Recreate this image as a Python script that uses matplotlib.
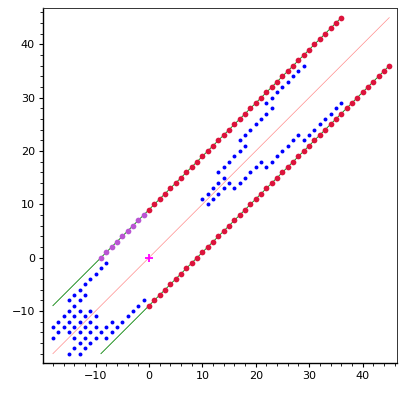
import numpy as np
import matplotlib
matplotlib.use('Agg')
from matplotlib import pyplot as plt
from matplotlib.ticker import MultipleLocator

# dotted diagonals
upper_x = list(range(0, 37))
upper_y = list(range(9, 46))
purple_x = list(range(-9, 0))
purple_y = list(range(0, 9))
lower_x = list(range(0, 46))
lower_y = list(range(-9, 37))

# green guide segments (end points)
green_upper_x = [-18, 36]
green_upper_y = [-9, 45]
green_lower_x = [-9, 45]
green_lower_y = [-18, 36]

# thin diagonal y = x
diag_x = [-18, 45]
diag_y = [-18, 45]

# blue lattice points, lower left
blue_ll_x = [-8, -9, -10, -11, -12, -13, -14, -12, -15, -13, -1, -14, -2,
             -15, -13, -11, -3, -16, -14, -12, -10, -4,
             -17, -15, -13, -11, -7, -5,
             -18, -16, -14, -12, -10, -8, -6,
             -17, -15, -13, -11, -9, -7,
             -18, -14, -12, -10, -8,
             -13, -11, -14, -12, -15, -13]
blue_ll_y = [-1, -2, -3, -4, -5, -6, -7, -7, -8, -8, -8, -9, -9,
             -10, -10, -10, -10, -11, -11, -11, -11, -11,
             -12, -12, -12, -12, -12, -12,
             -13, -13, -13, -13, -13, -13, -13,
             -14, -14, -14, -14, -14, -14,
             -15, -15, -15, -15, -15,
             -16, -16, -17, -17, -18, -18]

# blue lattice points, upper right
blue_ur_x = [11, 10, 12, 11, 13, 12, 14, 16, 13, 15, 17, 14, 18, 13, 19,
             14, 20, 22, 15, 21, 23, 16, 24, 17, 25, 18, 26,
             17, 27, 29, 18, 28, 30, 19, 31, 20, 32, 21, 33,
             22, 34, 23, 35, 22, 36, 23, 24, 25, 26, 27, 28, 29]
blue_ur_y = [10, 11, 11, 12, 12, 13, 13, 13, 14, 14, 14, 15, 15, 16, 16,
             17, 17, 17, 18, 18, 18, 19, 19, 20, 20, 21, 21,
             22, 22, 22, 23, 23, 23, 24, 24, 25, 25, 26, 26,
             27, 27, 28, 28, 29, 29, 30, 31, 32, 33, 34, 35, 36]

fig = plt.figure(figsize=(4.07, 3.93), dpi=100)
ax = fig.add_axes([43.3/407, 1-362.7/393, (396.7-43.3)/407, (362.7-8.3)/393])

ax.plot(green_upper_x, green_upper_y, color='green', lw=0.6, zorder=1)
ax.plot(green_lower_x, green_lower_y, color='green', lw=0.6, zorder=1)
ax.plot(diag_x, diag_y, color='red', lw=0.5, alpha=0.45, zorder=1)

ax.scatter(upper_x, upper_y, s=17, color='#dc143c', lw=0, zorder=3)
ax.scatter(lower_x, lower_y, s=17, color='#dc143c', lw=0, zorder=3)
ax.scatter(purple_x, purple_y, s=17, color='#ba55d3', lw=0, zorder=3)
ax.scatter(blue_ll_x, blue_ll_y, s=8, color='blue', lw=0, zorder=3)
ax.scatter(blue_ur_x, blue_ur_y, s=8, color='blue', lw=0, zorder=3)
ax.plot([0], [0], marker='+', color='magenta', ms=6, mew=1.3, zorder=4)

ax.set_xlim(-19.8, 46.4)
ax.set_ylim(-19.7, 46.75)
ax.xaxis.set_major_locator(MultipleLocator(10))
ax.yaxis.set_major_locator(MultipleLocator(10))
ax.xaxis.set_minor_locator(MultipleLocator(2))
ax.yaxis.set_minor_locator(MultipleLocator(2))
ax.tick_params(which='both', direction='out', top=False, right=False, labelsize=8, pad=3)
ax.tick_params(which='major', length=3, width=0.8)
ax.tick_params(which='minor', length=2, width=0.6)
for s in ['left', 'bottom']:
    ax.spines[s].set_linewidth(1.0)
for s in ['top', 'right']:
    ax.spines[s].set_linewidth(0.7)
    ax.spines[s].set_color('#333333')

fig.savefig('out.png', dpi=100)
